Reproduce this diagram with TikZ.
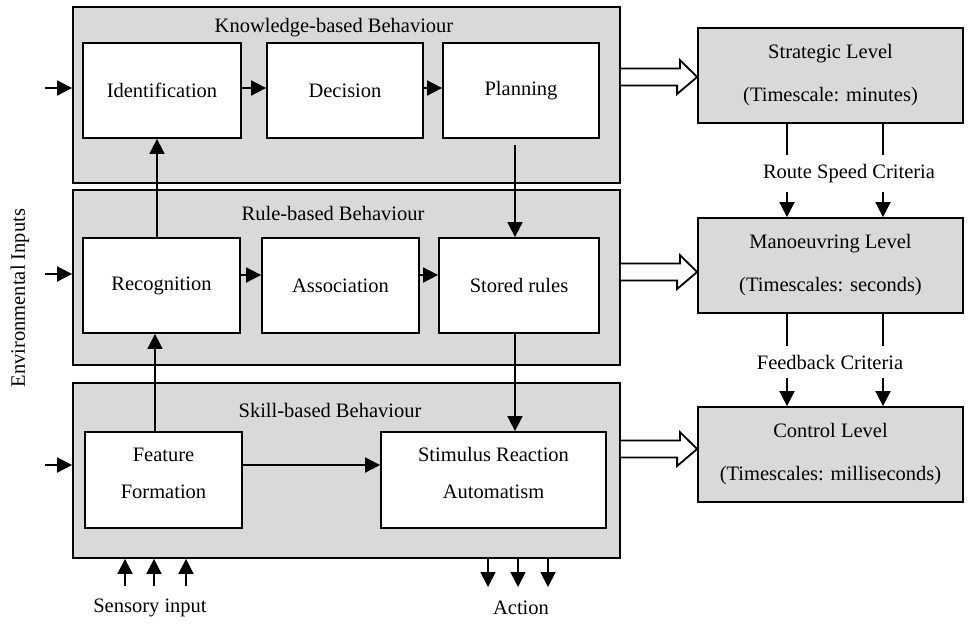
\documentclass[tikz,border=0pt]{standalone}
\usepackage{fontspec}
\setmainfont{Liberation Serif}
\usetikzlibrary{arrows.meta,calc}
\definecolor{boxgrey}{HTML}{D9D9D9}

\begin{document}
\begin{tikzpicture}[x=1pt,y=-1pt,
  every node/.style={font=\fontsize{20.5}{24}\selectfont},
  layer/.style={draw, line width=1.8pt, fill=boxgrey, minimum width=547, minimum height=#1, inner sep=0pt},
  stepbox/.style={draw, line width=1.8pt, fill=white, minimum height=95, inner sep=0pt, align=center},
  levelbox/.style={draw, line width=1.8pt, fill=boxgrey, minimum width=265, minimum height=95, inner sep=0pt, align=center},
  arr/.style={line width=1.8pt, -{Triangle[length=15pt,width=15pt]}},
  hollow/.style={draw, line width=1.8pt, fill=white, line join=miter},
  crit/.style={fill=white, inner xsep=1pt, inner ysep=0pt}
]
\useasboundingbox (0,0) rectangle (968,625);

% three behaviour layers
\node[layer=176] (kb) at (346.5,95) {};
\node[layer=175] (rb) at (346.5,277.5) {};
\node[layer=175] (sb) at (346.5,470.5) {};

\node (kbt) at (334,28) {Knowledge-based Behaviour};
\node (rbt) at (333,213) {Rule-based Behaviour};
\node (sbt) at (330,410) {Skill-based Behaviour};

% knowledge-based steps
\node[stepbox, minimum width=158] (id)  at (162,90.5) {Identification};
\node[stepbox, minimum width=156] (dec) at (345,90.5) {Decision};
\node[stepbox, minimum width=156] (pla) at (521,90.5) {Planning};

% rule-based steps
\node[stepbox, minimum width=157] (rec) at (161.5,285.5) {Recognition};
\node[stepbox, minimum width=157] (ass) at (340.5,285.5) {Association};
\node[stepbox, minimum width=160] (sto) at (519,285.5) {Stored rules};

% skill-based steps (text sits a little above the box centre)
\node[stepbox, minimum width=157, minimum height=96, text depth=14pt] (fea) at (163.5,480) {Feature\\[13pt]Formation};
\node[stepbox, minimum width=225, minimum height=96, text depth=14pt] (sti) at (493.5,480) {Stimulus Reaction\\[13pt]Automatism};

% control hierarchy
\node[levelbox] (strat) at (830.5,75.5) {Strategic Level\\[19pt](Timescale: minutes)};
\node[levelbox] (man)   at (830.5,265.5) {Manoeuvring Level\\[19pt](Timescales: seconds)};
\node[levelbox] (ctrl)  at (830.5,454.5) {Control Level\\[19pt](Timescales: milliseconds)};

% links inside the layers
\draw[arr] (id.east |- 0,88) -- (dec.west |- 0,88);
\draw[arr] (dec.east |- 0,88) -- (pla.west |- 0,88);
\draw[arr] (rec.east |- 0,275) -- (ass.west |- 0,275);
\draw[arr] (ass.east |- 0,275) -- (sto.west |- 0,275);
\draw[arr] (fea.east |- 0,465) -- (sti.west |- 0,465);

% links between the layers
\draw[arr] (rec.north -| 157,0) -- (id.south -| 157,0);
\draw[arr] (fea.north -| 155,0) -- (rec.south -| 155,0);
\draw[arr] ($(pla.south -| 515,0)+(0,6)$) -- (sto.north -| 515,0);
\draw[arr] (sto.south -| 515,0) -- (sti.north -| 515,0);

% environmental inputs
\coordinate (e1) at (45,88);
\coordinate (e2) at (45,274);
\coordinate (e3) at (45,465);
\draw[arr] (e1) -- (kb.west |- e1);
\draw[arr] (e2) -- (rb.west |- e2);
\draw[arr] (e3) -- (sb.west |- e3);
\node[rotate=90] (env) at (20,298) {Environmental Inputs};

% sensory input and action
\node (sens) at (150,608) {Sensory input};
\node (act) at (521,608) {Action};
\foreach \i/\x in {1/125,2/154,3/186} {
  \coordinate (s\i) at (\x,586);
  \draw[arr] (s\i) -- (sb.south -| s\i);
}
\foreach \i/\x in {1/488,2/518,3/548} {
  \coordinate (a\i) at (\x,587);
  \draw[arr] (sb.south -| a\i) -- (a\i);
}

% hollow arrows from layers to levels
\foreach \a/\b/\y in {kb/strat/77, rb/man/272, sb/ctrl/449} {
  \draw[hollow] (\a.east |- 0,\y) ++(0,-8.5) -- ++(59,0) -- ++(0,-8.5)
     -- (\b.west |- 0,\y) -- ($(\b.west |- 0,\y)+(-20,17)$) -- ++(0,-8.5)
     -- ($(\a.east |- 0,\y)+(0,8.5)$);
}

% criteria passed down the hierarchy
\foreach \x in {787,883} {
  \draw[arr] (strat.south -| \x,0) -- (man.north -| \x,0);
  \draw[arr] (man.south -| \x,0) -- (ctrl.north -| \x,0);
}
\node[crit, minimum height=37] (rsc) at (849,173.5) {Route Speed Criteria};
\node[crit, minimum height=32] (fbc) at (830,362) {Feedback Criteria};
\end{tikzpicture}
\end{document}
